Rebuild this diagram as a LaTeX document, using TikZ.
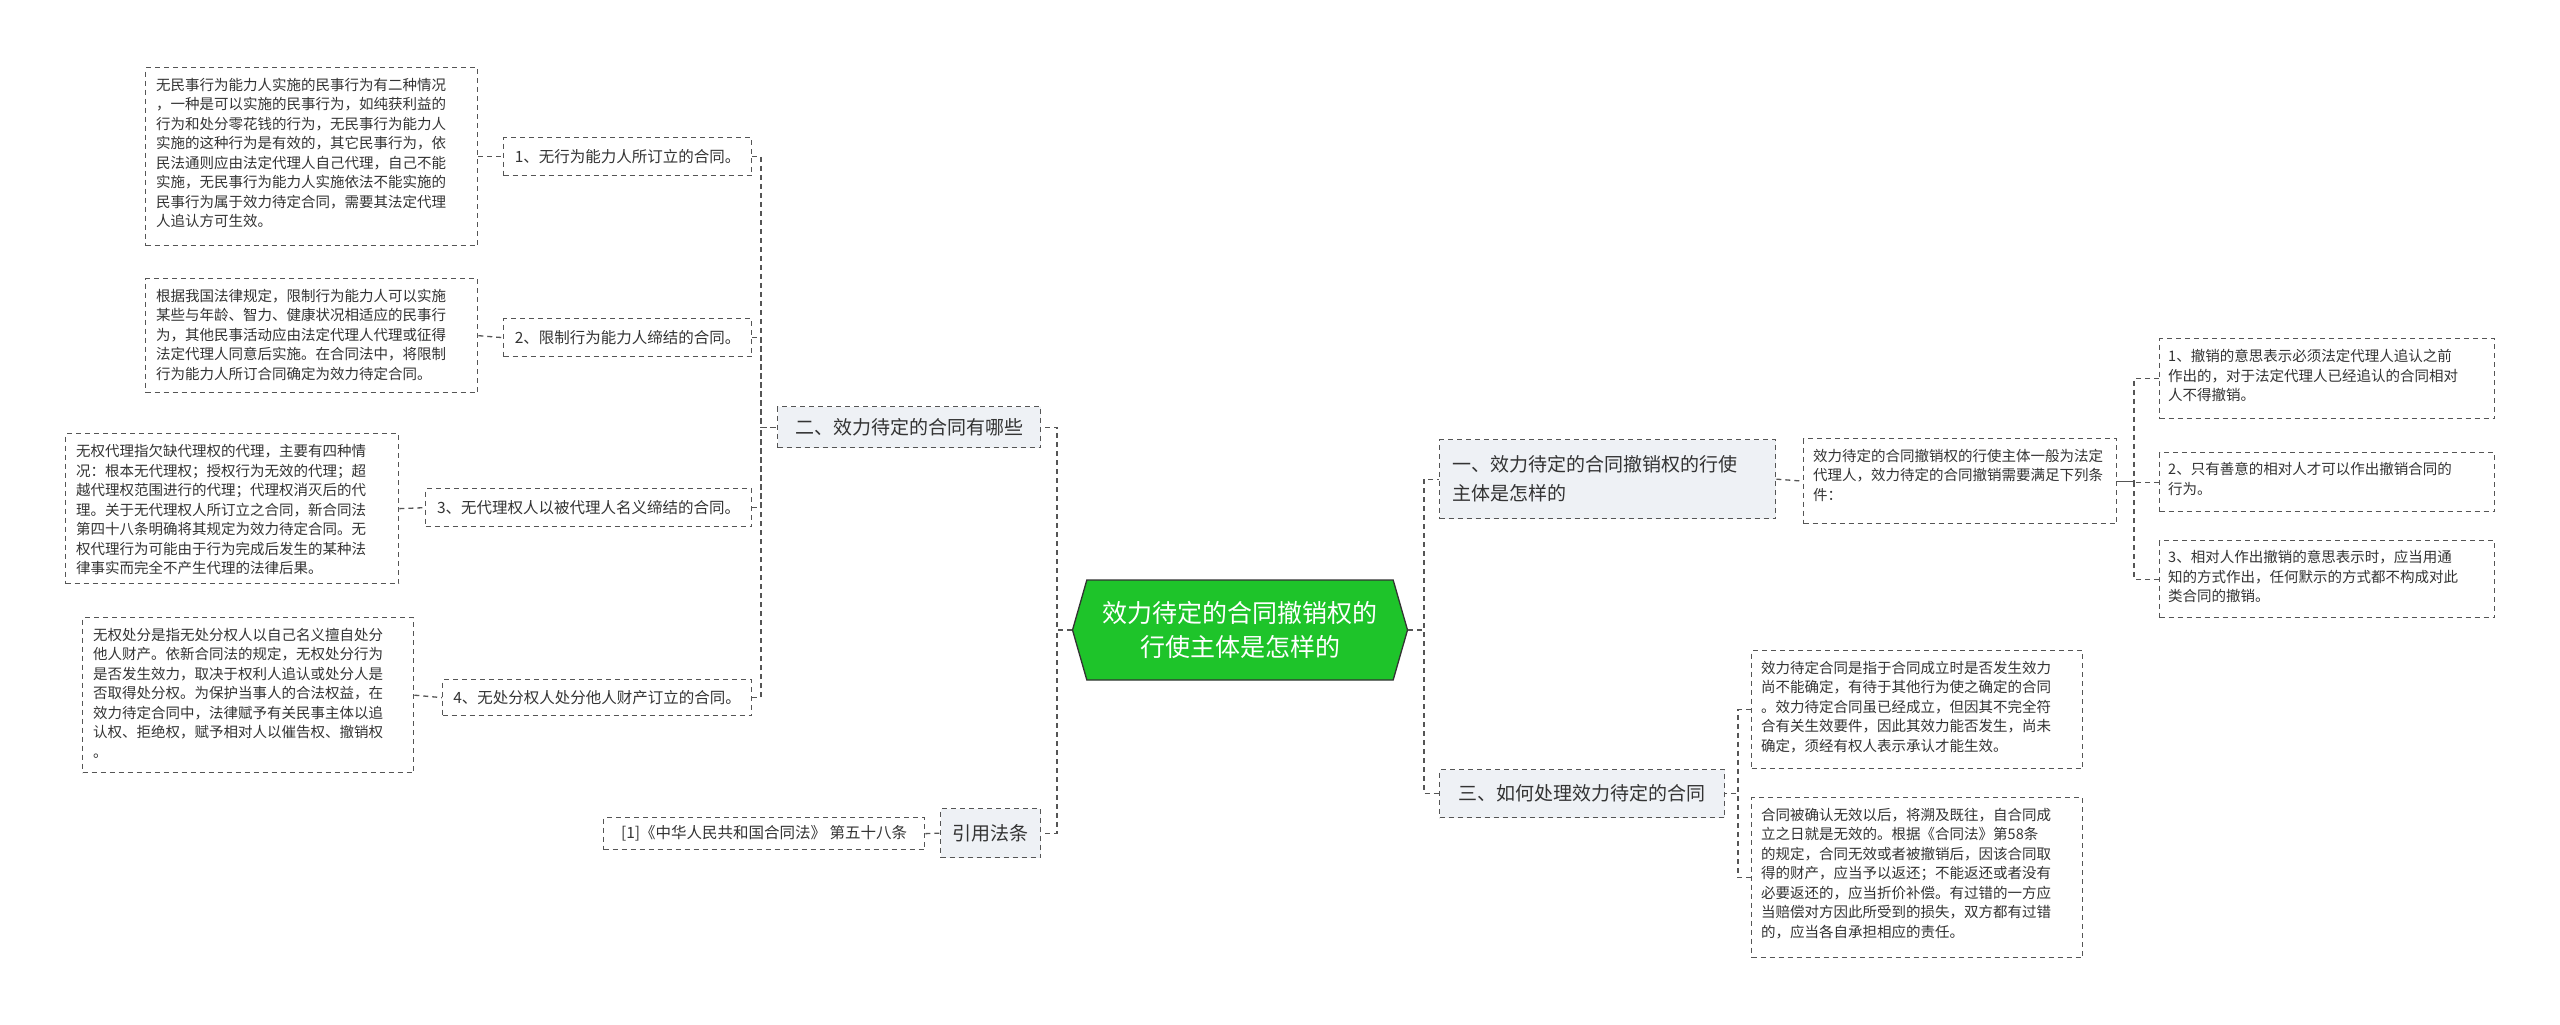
\documentclass[tikz,border=0pt]{standalone}
\usepackage{fontspec}
\setmainfont{Noto Sans CJK SC}
\usetikzlibrary{shapes.symbols}
\definecolor{ln}{HTML}{555555}
\definecolor{tx}{HTML}{333333}
\definecolor{lf}{HTML}{EEF1F5}
\definecolor{gr}{HTML}{1EC42A}
\tikzset{
 conn/.style={draw=ln,dashed,line width=1.3pt,dash pattern=on 5pt off 4pt},
 box/.style={draw=ln,dashed,line width=1.3pt,dash pattern=on 5pt off 4pt,text=tx,inner sep=0pt,align=left,anchor=north west},
 small/.style={box,font=\fontsize{14.5}{19.5}\selectfont},
 item/.style={box,font=\fontsize{15.5}{20}\selectfont},
 br/.style={box,fill=lf,font=\fontsize{19}{27}\selectfont},
 lbl/.style={text=tx,align=left,anchor=north west,inner sep=0pt,font=\fontsize{14.5}{19.5}\selectfont},
 ilbl/.style={text=tx,font=\fontsize{15.5}{20}\selectfont},
 blbl/.style={text=tx,font=\fontsize{19}{27}\selectfont},
}
\begin{document}
\begin{tikzpicture}[x=1pt,y=-1pt]
\useasboundingbox (0,0) rectangle (2560,1025);
% center
\node[signal,signal to=west and east,signal pointer angle=148,fill=gr,draw=tx,line width=1.3pt,
 minimum width=335pt,minimum height=100pt,text=white,align=center,font=\fontsize{25}{34}\selectfont] (c) at (1240,630)
 {效力待定的合同撤销权的\\行使主体是怎样的};
% left branch nodes
\node[br,minimum width=263pt,minimum height=41pt] (b2) at (777,406) {};
\node[blbl] at (b2.center) {二、效力待定的合同有哪些};
\node[br,minimum width=100pt,minimum height=49pt] (bref) at (940,808) {};
\node[blbl] at (bref.center) {引用法条};
% items
\node[item,minimum width=248pt,minimum height=38pt] (i1) at (503,137) {};
\node[ilbl] at (i1.center) {1、无行为能力人所订立的合同。};
\node[item,minimum width=248pt,minimum height=38pt] (i2) at (503,318) {};
\node[ilbl] at (i2.center) {2、限制行为能力人缔结的合同。};
\node[item,minimum width=326pt,minimum height=38pt] (i3) at (425,488) {};
\node[ilbl] at (i3.center) {3、无代理权人以被代理人名义缔结的合同。};
\node[item,minimum width=309pt,minimum height=36pt] (i4) at (442,679) {};
\node[ilbl] at (i4.center) {4、无处分权人处分他人财产订立的合同。};
\node[item,minimum width=321pt,minimum height=32pt] (iref) at (603,817) {};
\node[ilbl] at (iref.center) {[1]《中华人民共和国合同法》 第五十八条};
% left texts
\node[small,minimum width=332pt,minimum height=178pt] (t1) at (145,67) {};
\node[lbl] at (156,78) {无民事行为能力人实施的民事行为有二种情况\\，一种是可以实施的民事行为，如纯获利益的\\行为和处分零花钱的行为，无民事行为能力人\\实施的这种行为是有效的，其它民事行为，依\\民法通则应由法定代理人自己代理，自己不能\\实施，无民事行为能力人实施依法不能实施的\\民事行为属于效力待定合同，需要其法定代理\\人追认方可生效。};
\node[small,minimum width=332pt,minimum height=114pt] (t2) at (145,278) {};
\node[lbl] at (156,289) {根据我国法律规定，限制行为能力人可以实施\\某些与年龄、智力、健康状况相适应的民事行\\为，其他民事活动应由法定代理人代理或征得\\法定代理人同意后实施。在合同法中，将限制\\行为能力人所订合同确定为效力待定合同。};
\node[small,minimum width=333pt,minimum height=150pt] (t3) at (65,433) {};
\node[lbl] at (76,444) {无权代理指欠缺代理权的代理，主要有四种情\\况：根本无代理权；授权行为无效的代理；超\\越代理权范围进行的代理；代理权消灭后的代\\理。关于无代理权人所订立之合同，新合同法\\第四十八条明确将其规定为效力待定合同。无\\权代理行为可能由于行为完成后发生的某种法\\律事实而完全不产生代理的法律后果。};
\node[small,minimum width=331pt,minimum height=155pt] (t4) at (82,617) {};
\node[lbl] at (93,628) {无权处分是指无处分权人以自己名义擅自处分\\他人财产。依新合同法的规定，无权处分行为\\是否发生效力，取决于权利人追认或处分人是\\否取得处分权。为保护当事人的合法权益，在\\效力待定合同中，法律赋予有关民事主体以追\\认权、拒绝权，赋予相对人以催告权、撤销权\\。};
% right branch
\node[br,minimum width=336pt,minimum height=79pt] (b1) at (1439,439) {};
\node[text=tx,align=left,anchor=west,inner sep=0pt,font=\fontsize{19}{29}\selectfont] at (1452,478.5) {一、效力待定的合同撤销权的行使\\主体是怎样的};
\node[br,minimum width=285pt,minimum height=48pt] (b3) at (1439,769) {};
\node[blbl] at (b3.center) {三、如何处理效力待定的合同};
\node[small,minimum width=313pt,minimum height=85pt] (m1) at (1803,438) {};
\node[lbl] at (1813,449) {效力待定的合同撤销权的行使主体一般为法定\\代理人，效力待定的合同撤销需要满足下列条\\件：};
\node[small,minimum width=335pt,minimum height=80pt] (r1) at (2159,338) {};
\node[lbl] at (2168,349) {1、撤销的意思表示必须法定代理人追认之前\\作出的，对于法定代理人已经追认的合同相对\\人不得撤销。};
\node[small,minimum width=335pt,minimum height=59pt] (r2) at (2159,452) {};
\node[lbl] at (2168,462) {2、只有善意的相对人才可以作出撤销合同的\\行为。};
\node[small,minimum width=335pt,minimum height=77pt] (r3) at (2159,540) {};
\node[lbl] at (2168,550) {3、相对人作出撤销的意思表示时，应当用通\\知的方式作出，任何默示的方式都不构成对此\\类合同的撤销。};
\node[small,minimum width=331pt,minimum height=118pt] (s1) at (1751,650) {};
\node[lbl] at (1761,661) {效力待定合同是指于合同成立时是否发生效力\\尚不能确定，有待于其他行为使之确定的合同\\。效力待定合同虽已经成立，但因其不完全符\\合有关生效要件，因此其效力能否发生，尚未\\确定，须经有权人表示承认才能生效。};
\node[small,minimum width=331pt,minimum height=160pt] (s2) at (1751,797) {};
\node[lbl] at (1761,808) {合同被确认无效以后，将溯及既往，自合同成\\立之日就是无效的。根据《合同法》第58条\\的规定，合同无效或者被撤销后，因该合同取\\得的财产，应当予以返还；不能返还或者没有\\必要返还的，应当折价补偿。有过错的一方应\\当赔偿对方因此所受到的损失，双方都有过错\\的，应当各自承担相应的责任。};
% trunks
\coordinate (tc) at (1057,0);
\coordinate (tl) at (761,0);
\coordinate (tr) at (1424,0);
\coordinate (tm) at (2134,0);
\coordinate (ts) at (1738,0);
% connectors
\draw[conn] (c.west) -- (c.west -| tc) |- (b2.east);
\draw[conn] (c.west) -- (c.west -| tc) |- (bref.east);
\draw[conn] (i1.east) -- (i1.east -| tl) |- (b2.west);
\draw[conn] (i2.east) -- (i2.east -| tl) |- (b2.west);
\draw[conn] (i3.east) -- (i3.east -| tl) |- (b2.west);
\draw[conn] (i4.east) -- (i4.east -| tl) |- (b2.west);
\draw[conn] (t1.east) -- (i1.west);
\draw[conn] (t2.east) -- (i2.west);
\draw[conn] (t3.east) -- (i3.west);
\draw[conn] (t4.east) -- (i4.west);
\draw[conn] (iref.east) -- (bref.west);
\draw[conn] (c.east) -- (c.east -| tr) |- (b1.west);
\draw[conn] (c.east) -- (c.east -| tr) |- (b3.west);
\draw[conn] (b1.east) -- (m1.west);
\draw[conn] (r1.west) -- (r1.west -| tm) |- (m1.east);
\draw[conn] (r2.west) -- (r2.west -| tm) |- (m1.east);
\draw[conn] (r3.west) -- (r3.west -| tm) |- (m1.east);
\draw[conn] (s1.west) -- (s1.west -| ts) |- (b3.east);
\draw[conn] (s2.west) -- (s2.west -| ts) |- (b3.east);
\end{tikzpicture}
\end{document}
